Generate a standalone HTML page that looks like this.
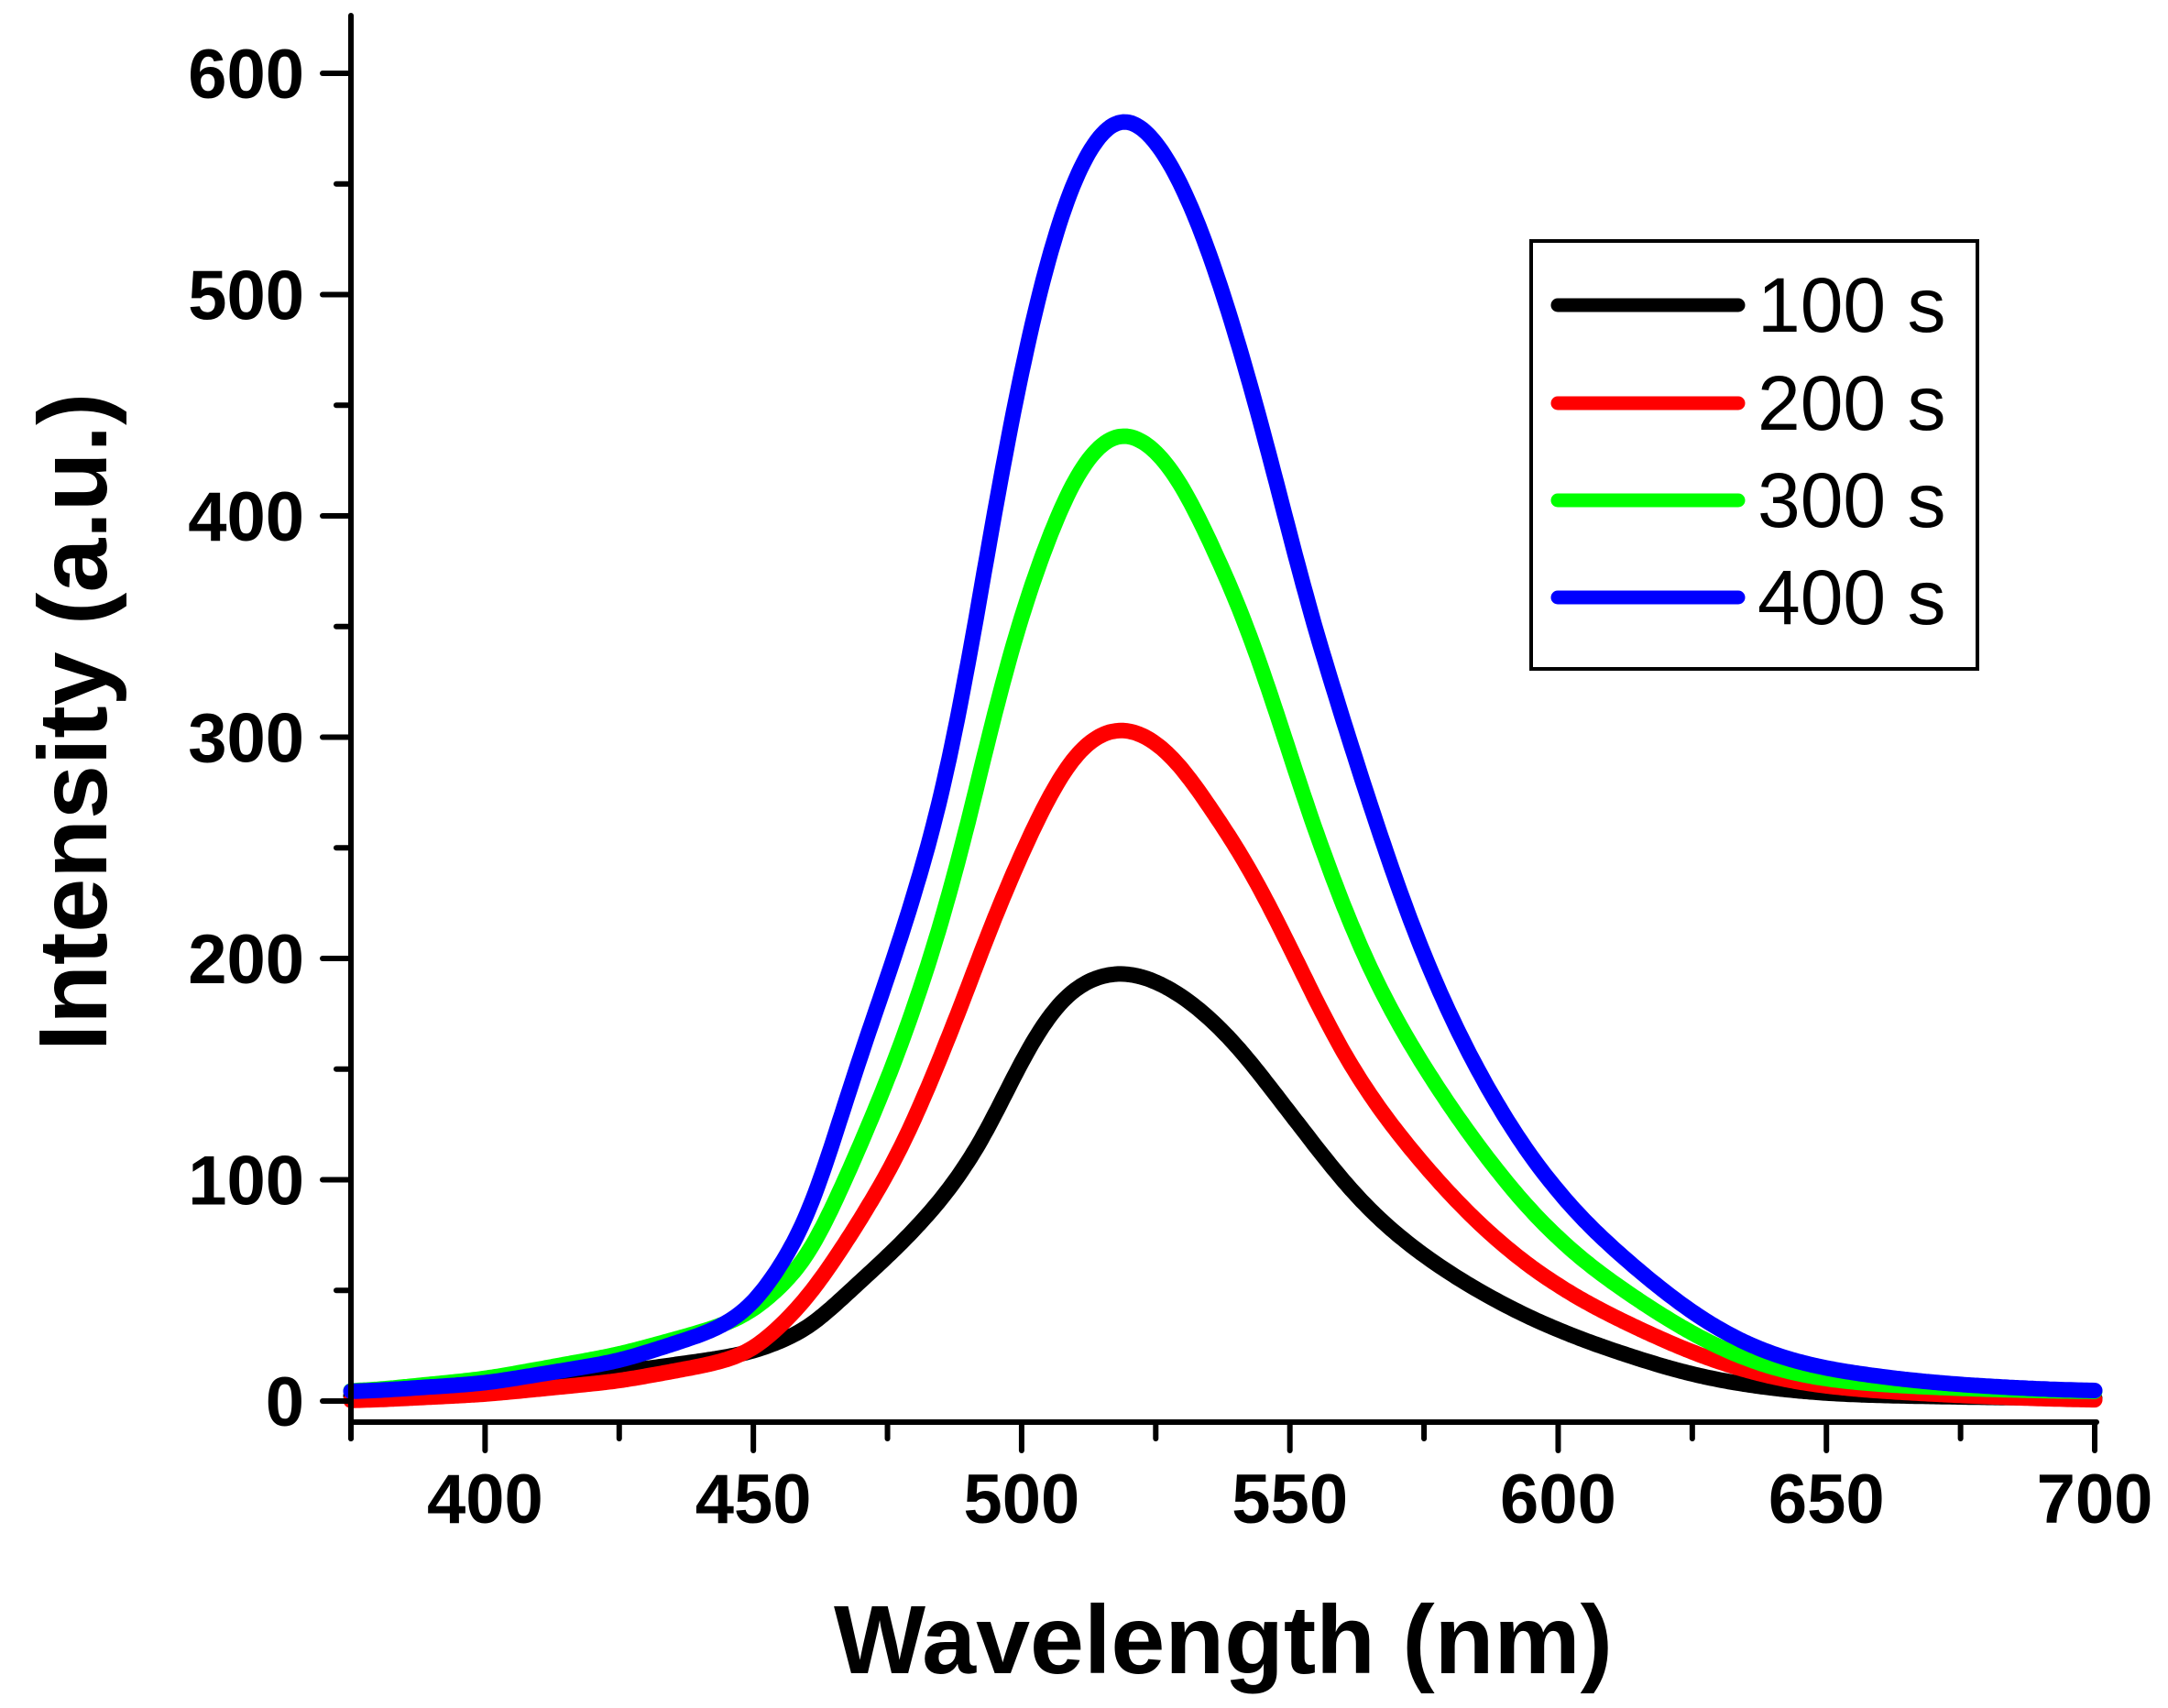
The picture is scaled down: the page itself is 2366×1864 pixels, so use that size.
<!DOCTYPE html>
<html><head><meta charset="utf-8"><style>
html,body{margin:0;padding:0;background:#fff;}
svg{display:block;}
</style></head><body>
<svg id="s" width="2366" height="1864" xmlns="http://www.w3.org/2000/svg" font-family="Liberation Sans, Arial, sans-serif">
<rect width="2366" height="1864" fill="#fff"/>
<g id="curves" fill="none" stroke-width="17" stroke-linejoin="round" stroke-linecap="round"></g>
<g stroke="#000" stroke-width="6" stroke-linecap="round" id="axes">
<line x1="383" y1="17" x2="383" y2="1570"/>
<line x1="383" y1="1552" x2="2288" y2="1552"/>
</g>
<g font-weight="bold" font-size="76" text-anchor="end" id="ylab"></g>
<g font-weight="bold" font-size="76" text-anchor="middle" id="xlab"></g>
<text x="1335" y="1826" font-size="106" font-weight="bold" text-anchor="middle">Wavelength (nm)</text>
<text transform="translate(116,788) rotate(-90)" font-size="106" font-weight="bold" text-anchor="middle">Intensity (a.u.)</text>
<rect x="1671" y="263" width="487" height="467" fill="none" stroke="#000" stroke-width="4"/>
<g stroke-width="15" stroke-linecap="round">
<line x1="1700" y1="333" x2="1897" y2="333" stroke="#000"/>
<line x1="1700" y1="440" x2="1897" y2="440" stroke="#ff0000"/>
<line x1="1700" y1="546" x2="1897" y2="546" stroke="#00ff00"/>
<line x1="1700" y1="652" x2="1897" y2="652" stroke="#0000ff"/>
</g>
<g font-size="84">
<text x="1918" y="362">100 s</text>
<text x="1918" y="469">200 s</text>
<text x="1918" y="575">300 s</text>
<text x="1918" y="681">400 s</text>
</g>
</svg>
<script>
var NS="http://www.w3.org/2000/svg";
function X(w){return 383+(w-375)*1903/325;}
function Y(v){return 1529-v*2.415;}
var ax=document.getElementById('axes'),yl=document.getElementById('ylab'),xl=document.getElementById('xlab');
function L(g,a,b,c,d){var l=document.createElementNS(NS,'line');l.setAttribute('x1',a);l.setAttribute('y1',b);l.setAttribute('x2',c);l.setAttribute('y2',d);g.appendChild(l);}
function T(g,x,y,t){var e=document.createElementNS(NS,'text');e.setAttribute('x',x);e.setAttribute('y',y);e.textContent=t;g.appendChild(e);}
for(var v=0;v<=600;v+=50){var y=Y(v);L(ax,v%100==0?352:367,y,383,y);if(v%100==0)T(yl,332,y+27,v);}
for(var w=375;w<=700;w+=25){var x=X(w);L(ax,x,1552,x,w%50==0?1583:1570);if(w%50==0)T(xl,x,1662,w);}
var W=[375,400,425,443,450,460.2,469,477.6,486.3,493.4,498.6,503.8,509,514.2,519,524.8,530,535.2,541.3,547.3,552.6,559.6,566.4,575,586,600,625,638,650,670,700];
var blue=[4,8,18,32,42,80,150,209,280,380,450,505,546,569,578,567,546,515,469,416,365,310,258,198,142,90,38,21,14,8,4];
var green=[4,10,21,33,40,63,110,160,224,295,345,380,412,430,436,428,412,385,354,312,272,225,186,150,111,70,29,15,9,6,4];
var red=[0,3,9,17,22,46,78,113,163,209,239,266,289,300,303,297,285,266,245,218,192,158,132,106,77,50,21,11,6,3,0];
var black=[2,6,13,19,22,32,52,71,94,120,147,170,185,191,193,189,182,172,157,138,122,100,82,65,48,31,11,6,3,2,1];
var cg=document.getElementById('curves');
function interp(d,w){for(var i=0;i<W.length-1;i++){if(w<=W[i+1]){var t=(w-W[i])/(W[i+1]-W[i]);return d[i]+(d[i+1]-d[i])*t;}}return d[d.length-1];}
function sg(w){return w<560?3.5:(w<600?3.5+(w-560)*0.1:7.5);}
function path(d,col){
var ws=[],vs=[];for(var w=375;w<=700.01;w+=0.5){ws.push(w);vs.push(interp(d,w));}
var out=[];for(var i=0;i<vs.length;i++){var sig=sg(ws[i]),R=Math.ceil(3*sig/0.5),s=0,t=0;for(var j=-R;j<=R;j++){var ii=i+j;if(ii<0||ii>=vs.length)continue;var k=Math.exp(-0.5*Math.pow(j*0.5/sig,2));s+=vs[ii]*k;t+=k;}out.push(s/t);}
var pk=Math.max.apply(null,d),po=Math.max.apply(null,out);
var str='';for(var i=0;i<ws.length;i++){var v=out[i];if(v>pk*0.6)v=v+(pk-po)*(v-pk*0.6)/(po-pk*0.6);str+=(i?' L':'M')+X(ws[i]).toFixed(1)+','+Y(v).toFixed(1);}
var e=document.createElementNS(NS,'path');e.setAttribute('d',str);e.setAttribute('stroke',col);cg.appendChild(e);}
path(black,'#000');path(red,'#ff0000');path(green,'#00ff00');path(blue,'#0000ff');
</script>
</body></html>
